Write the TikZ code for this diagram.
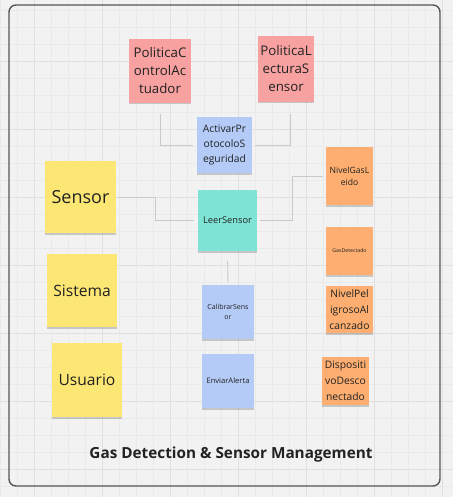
\documentclass[tikz,border=0pt]{standalone}
\usepackage{fontspec}
\setmainfont{Open Sans}
\usetikzlibrary{shadows}
\definecolor{bgc}{HTML}{F2F2F2}
\definecolor{gridminor}{HTML}{EAEAEA}
\definecolor{gridmajor}{HTML}{E0E0E0}
\definecolor{framec}{HTML}{555555}
\definecolor{pinkc}{HTML}{F8A1A1}
\definecolor{bluec}{HTML}{B3CBF6}
\definecolor{tealc}{HTML}{7FE4D6}
\definecolor{orangec}{HTML}{FDAE70}
\definecolor{yellowc}{HTML}{FCE774}
\definecolor{linec}{HTML}{C9C9C9}
\definecolor{txtc}{HTML}{222222}
\newcommand{\fsz}[2]{\fontsize{#1}{#2}\selectfont}
\tikzset{
  note/.style={rectangle, inner sep=0pt, align=center, text=txtc,
    drop shadow={shadow xshift=0pt, shadow yshift=-1.5pt, opacity=0.18, fill=black}},
  pinknote/.style={note, fill=pinkc},
  bluenote/.style={note, fill=bluec},
  tealnote/.style={note, fill=tealc},
  orangenote/.style={note, fill=orangec},
  yellownote/.style={note, fill=yellowc},
  conn/.style={draw=linec, line width=0.9pt},
}
\begin{document}
\begin{tikzpicture}[x=1pt,y=-1pt]
\fill[bgc] (0,0) rectangle (453,497);
\useasboundingbox (0,0) rectangle (453,497);
% grid
\foreach \gx in {0,17,...,453} \draw[gridminor, line width=0.5pt] (\gx,0) -- (\gx,497);
\foreach \gy in {10,27,...,497} \draw[gridminor, line width=0.5pt] (0,\gy) -- (453,\gy);
\foreach \gx in {34,102,...,453} \draw[gridmajor, line width=0.8pt] (\gx,0) -- (\gx,497);
\foreach \gy in {61,129,...,497} \draw[gridmajor, line width=0.8pt] (0,\gy) -- (453,\gy);
% frame
\draw[framec, line width=1.4pt, rounded corners=7pt] (9,5) rectangle (440,486);

% pink
\node[pinknote, minimum width=62pt, minimum height=64pt, font=\fsz{13.3}{18}] (pca) at (160,71)
  {PoliticaC\\ontrolAc\\tuador};
\node[pinknote, minimum width=56pt, minimum height=66pt, font=\fsz{13.3}{18}] (pls) at (286,69)
  {PoliticaL\\ecturaS\\ensor};
% blue / teal center
\node[bluenote, minimum width=55pt, minimum height=56pt, font=\fsz{10.3}{15}] (act) at (224.5,145)
  {ActivarPr\\otocoloS\\eguridad};
\node[tealnote, minimum width=59pt, minimum height=61pt, font=\fsz{9.3}{11}] (leer) at (227.5,220.5)
  {LeerSensor};
\node[bluenote, minimum width=52pt, minimum height=54pt, font=\fsz{7}{10}] (cal) at (228,312)
  {CalibrarSens\\or};
\node[bluenote, minimum width=52pt, minimum height=54pt, font=\fsz{7.6}{9}] (env) at (228,381)
  {EnviarAlerta};
% orange
\node[orangenote, minimum width=47pt, minimum height=58pt, font=\fsz{8.6}{12}] (ngl) at (349.5,176)
  {NivelGasL\\eido};
\node[orangenote, minimum width=47pt, minimum height=48pt, font=\fsz{5.2}{6}] (gd) at (349.5,251)
  {GasDetectado};
\node[orangenote, minimum width=47pt, minimum height=47pt, font=\fsz{10.3}{16}] (npa) at (349.5,309.5)
  {NivelPel\\igrosoAl\\canzado};
\node[orangenote, minimum width=47pt, minimum height=48pt, font=\fsz{10.3}{16}] (dd) at (345.5,381)
  {Dispositi\\voDesco\\nectado};
% yellow
\node[yellownote, minimum width=71pt, minimum height=72pt, font=\fsz{18}{20}] (sensor) at (80.5,197)
  {Sensor};
\node[yellownote, minimum width=70pt, minimum height=73pt, font=\fsz{15.6}{18}] (sistema) at (82,290.5)
  {Sistema};
\node[yellownote, minimum width=70pt, minimum height=74pt, font=\fsz{15.6}{18}] (usuario) at (87,380)
  {Usuario};

% connectors
\draw[conn, shorten <=11pt, shorten >=4pt] (pca.south) |- (act.west);
\draw[conn, shorten <=12pt, shorten >=3pt] (pls.south) ++(4,0) coordinate (plsb) |- (act.east);
\draw[conn, shorten >=4pt] (sensor.east) ++(2,0) -- ++(37,0) |- (leer.west);
\draw[conn, shorten <=3pt, shorten >=3pt] (leer.east) -- ++(35,0) |- (ngl.west);
\draw[conn, shorten <=10pt, shorten >=3pt] (leer.south) -- (cal.north);

% title
\node[font=\bfseries\fsz{15.3}{18}, text=txtc] (title) at (231,455) {Gas Detection \& Sensor Management};
\end{tikzpicture}
\end{document}
